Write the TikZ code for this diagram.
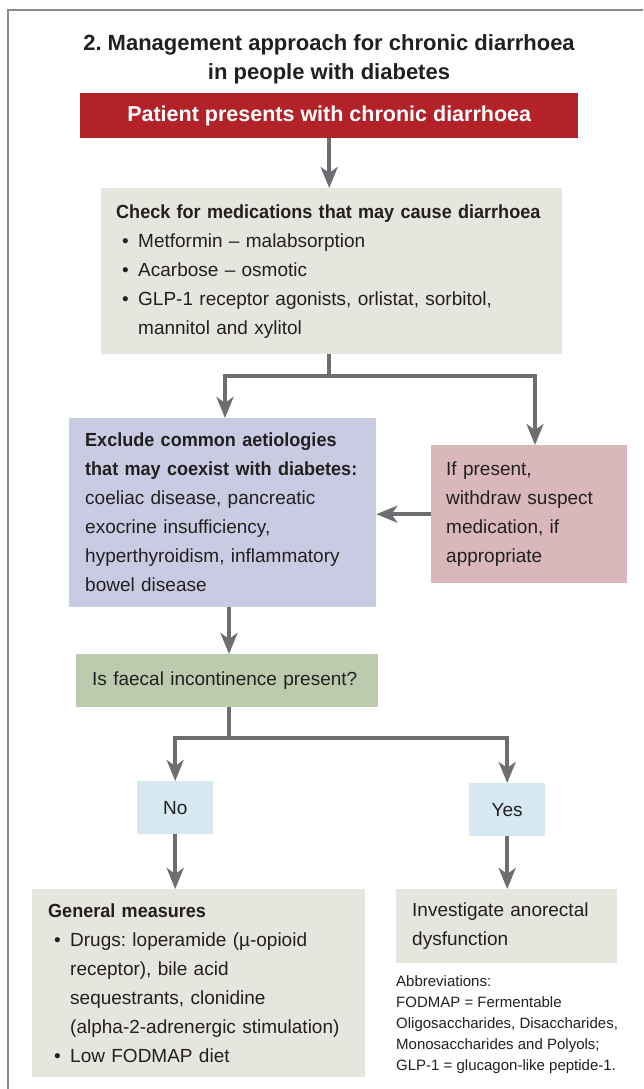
\documentclass[tikz,border=0pt]{standalone}
\usepackage{fontspec}
\setmainfont{Liberation Sans}
\newfontfamily\condfont[FakeStretch=0.95]{Liberation Sans}
\usetikzlibrary{arrows.meta}

\definecolor{startred}{HTML}{B22228}
\definecolor{stepgrey}{HTML}{E6E5DE}
\definecolor{causelilac}{HTML}{C9CBE2}
\definecolor{actionpink}{HTML}{D9B7BB}
\definecolor{askgreen}{HTML}{BCCBAE}
\definecolor{answerblue}{HTML}{D6E8F1}
\definecolor{arrowgrey}{HTML}{6D6E71}
\definecolor{framegrey}{HTML}{8A8A8A}
\definecolor{inkblack}{HTML}{231F20}

\hyphenpenalty=10000
\exhyphenpenalty=10000
\frenchspacing

\newcommand{\bodyfont}{\fontsize{19pt}{29pt}\selectfont}
\newcommand{\headtext}[1]{{\condfont\bfseries #1}}
\newcommand{\bul}{\makebox[22pt][l]{\hspace{6pt}\textbullet}}
\newcommand{\contline}{\hspace*{22pt}}

\begin{document}
\begin{tikzpicture}[
    x=1pt, y=-1pt,
    >={Stealth[length=21pt,width=17pt,inset=6pt]},
    flow/.style={->, line width=4pt, draw=arrowgrey},
    box/.style={
      anchor=north west,
      inner xsep=16pt,
      inner ysep=0pt,
      align=left,
      text=inkblack,
      font=\bodyfont
    },
    answer/.style={
      anchor=north west,
      fill=answerblue,
      inner sep=0pt,
      minimum width=76pt,
      minimum height=53pt,
      text=inkblack,
      font=\bodyfont
    }
  ]
    \useasboundingbox (0,0) rectangle (643,1089);
    \draw[framegrey, line width=1.5pt] (643,10) -- (8,10) -- (8,1089);

    \node[align=center, text=inkblack, font=\fontsize{22pt}{29pt}\selectfont\bfseries] (title) at (329,59)
      {2. Management approach for chronic diarrhoea\\in people with diabetes};

    \node[anchor=north west, fill=startred, text=white, inner sep=0pt,
      minimum width=498pt, minimum height=45pt,
      font=\fontsize{21.5pt}{26pt}\selectfont\bfseries] (start) at (80,93)
      {Patient presents with chronic diarrhoea};

    \node[box, fill=stepgrey, inner xsep=15pt, text width=431pt, minimum height=166pt] (check) at (101,188)
      {\headtext{Check for medications that may cause diarrhoea}\\
       \bul Metformin – malabsorption\\
       \bul Acarbose – osmotic\\
       \bul GLP-1 receptor agonists, orlistat, sorbitol,\\
       \contline mannitol and xylitol};

    \node[box, fill=causelilac, text width=275pt, minimum height=189pt] (exclude) at (69,418)
      {\headtext{Exclude common aetiologies}\\
       \headtext{that may coexist with diabetes:}\\
       coeliac disease, pancreatic\\
       exocrine insufficiency,\\
       hyperthyroidism, inflammatory\\
       bowel disease};

    \node[box, fill=actionpink, inner xsep=15pt, text width=166pt, minimum height=138pt] (withdraw) at (431,445)
      {If present,\\
       withdraw suspect\\
       medication, if\\
       appropriate};

    \node[box, fill=askgreen, text width=270pt, minimum height=53pt] (faecal) at (76,654)
      {Is faecal incontinence present?};

    \node[answer] (no) at (137,781) {No};
    \node[answer] (yes) at (469,783) {Yes};

    \node[box, fill=stepgrey, text width=301pt, minimum height=188pt] (general) at (32,889)
      {\headtext{General measures}\\
       \bul Drugs: loperamide (µ-opioid\\
       \contline receptor), bile acid\\
       \contline sequestrants, clonidine\\
       \contline (alpha-2-adrenergic stimulation)\\
       \bul Low FODMAP diet};

    \node[box, fill=stepgrey, text width=189pt, minimum height=74pt] (anorectal) at (396,889)
      {Investigate anorectal\\
       dysfunction};

    \node[anchor=north west, inner sep=0pt, align=left, text=inkblack,
      font=\fontsize{15pt}{21.2pt}\selectfont] (abbrev) at (396,975)
      {Abbreviations:\\
       FODMAP = Fermentable\\
       Oligosaccharides, Disaccharides,\\
       Monosaccharides and Polyols;\\
       GLP-1 = glucagon-like peptide-1.};

    \coordinate (split1) at (329,376);
    \coordinate (split2) at (229,738);

    \draw[flow] (start.south) -- (start.south |- check.north);
    \draw[flow] (check.south -| split1) -- (split1) -| (exclude.north -| 225,0);
    \draw[flow] (split1) -| (withdraw.north -| 535,0);
    \draw[flow] (withdraw.west) -- (withdraw.west -| exclude.east);
    \draw[flow] (exclude.south -| split2) -- (faecal.north -| split2);
    \draw[flow] (faecal.south -| split2) -- (split2) -| (no.north);
    \draw[flow] (split2) -| (yes.north);
    \draw[flow] (no.south) -- (no.south |- general.north);
    \draw[flow] (yes.south) -- (yes.south |- anorectal.north);
  \end{tikzpicture}
\end{document}
